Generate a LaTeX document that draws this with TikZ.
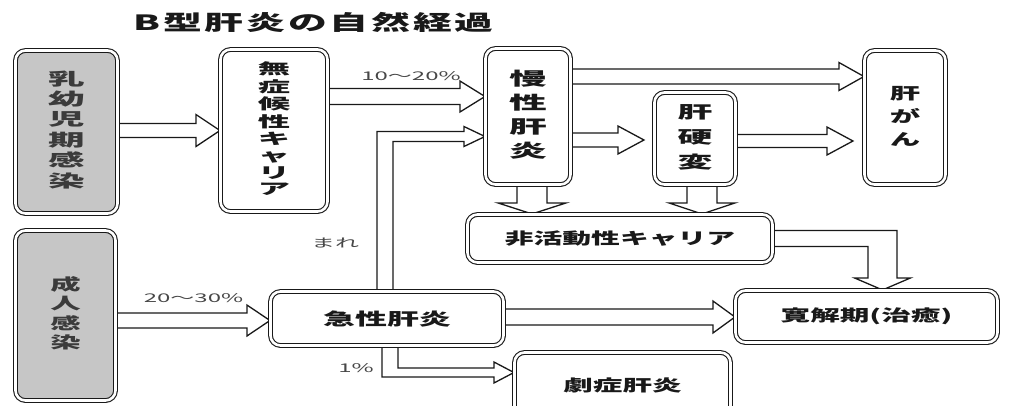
\documentclass[tikz,border=0pt]{standalone}
\usepackage{fontspec}
\usepackage{graphicx}
\setmainfont{Noto Sans CJK JP}
\usetikzlibrary{calc}
\pgfdeclarelayer{bg}
\pgfsetlayers{bg,main}
\definecolor{boxgray}{RGB}{198,198,198}
\definecolor{ink}{RGB}{25,25,25}
\tikzset{
  bx/.style={draw=ink, line width=1.1pt, double=white, double distance=2.6pt,
             rounded corners=10pt, inner sep=0pt, fill=white, text=ink, font=\bfseries},
  gbx/.style={bx, fill=boxgray, text=ink!85},
  blk/.style={draw=ink, line width=1.3pt, fill=white, line join=miter},
  lbl/.style={inner sep=0pt, text=ink!80},
}
\newcommand\vtext[4]{\scalebox{#3}[1]{\fontsize{#1}{#2}\selectfont\begin{tabular}{@{}c@{}}#4\end{tabular}}}
\newcommand\htext[3]{\scalebox{#2}[1]{\fontsize{#1}{#1}\selectfont #3}}
\newcommand\tsp{\hspace{1.5pt}}
% horizontal block arrow: start, tip, shaft half width, head half width, head length
\newcommand\harr[5]{\draw[blk] let \p1=#1, \p2=#2 in
  (\x1-6pt,\y2+#3) -- (\x2-#5,\y2+#3) -- (\x2-#5,\y2+#4) -- (\x2,\y2)
  -- (\x2-#5,\y2-#4) -- (\x2-#5,\y2-#3) -- (\x1-6pt,\y2-#3) -- cycle;}
% downward block arrow
\newcommand\varr[5]{\draw[blk] let \p1=#1, \p2=#2 in
  (\x2-#3,\y1+6pt) -- (\x2-#3,\y2+#5) -- (\x2-#4,\y2+#5) -- (\x2,\y2)
  -- (\x2+#4,\y2+#5) -- (\x2+#3,\y2+#5) -- (\x2+#3,\y1+6pt) -- cycle;}
\begin{document}
\begin{tikzpicture}[x=1pt,y=-1pt]
\useasboundingbox (0,0) rectangle (1016,405);
\clip (0,0) rectangle (1016,405);

% title
\node[lbl, text=ink] (title) at (313.5,22.5) {\scalebox{1.85}[1]{\fontsize{21}{21}\selectfont\bfseries B\tsp 型\tsp 肝\tsp 炎\tsp の\tsp 自\tsp 然\tsp 経\tsp 過}};

% boxes
\node[gbx, minimum width=102pt, minimum height=163pt] (A) at (66.5,132) {\vtext{17}{19.5}{2.15}{乳\\幼\\児\\期\\感\\染}};
\node[bx, minimum width=107pt, minimum height=162pt] (B) at (274,130.5) {\vtext{15}{16.5}{2.15}{無\\症\\候\\性\\キ\\ャ\\リ\\ア}};
\node[bx, minimum width=85pt, minimum height=136pt] (C) at (528,116.5) {\vtext{18}{24}{2.1}{慢\\性\\肝\\炎}};
\node[bx, minimum width=81pt, minimum height=92pt] (D) at (695,138.5) {\vtext{17}{25}{2.05}{肝\\硬\\変}};
\node[bx, minimum width=81pt, minimum height=134pt] (E) at (905,117.5) {\vtext{16}{23}{1.9}{肝\\が\\ん}};
\node[bx, minimum width=305pt, minimum height=48pt] (F) at (620,238.5) {\htext{16}{1.8}{非活動性キャリア}};
\node[bx, minimum width=233pt, minimum height=54pt] (G) at (387,318.5) {\htext{17}{1.88}{急性肝炎}};
\node[bx, minimum width=262pt, minimum height=52pt] (H) at (866.5,316.5) {\htext{16}{1.85}{寛解期(治癒)}};
\node[bx, minimum width=216pt, minimum height=67pt] (I) at (622.5,386) {\raisebox{3pt}{\htext{16}{1.85}{劇症肝炎}}};
\node[gbx, minimum width=100pt, minimum height=170pt] (J) at (65.5,315.5) {\vtext{16}{18.5}{1.9}{成\\人\\感\\染}};

% labels
\node[lbl] (l1) at (411,76) {\htext{12}{2.0}{10〜20\%}};
\node[lbl] (l2) at (193.5,298) {\htext{12}{2.0}{20〜30\%}};
\node[lbl] (l3) at (335,243) {\htext{12}{2.0}{まれ}};
\node[lbl] (l4) at (356,368) {\htext{12}{2.0}{1\%}};

% arrows
\begin{pgfonlayer}{bg}
\harr{(A.east)}{(B.west)}{7pt}{16pt}{24pt}
\harr{(B.east)}{([yshift=20pt]C.west)}{8pt}{15.5pt}{25pt}
\harr{(C.east)}{([yshift=41pt]E.west)}{7.5pt}{14pt}{25pt}
\harr{(C.east)}{([xshift=-10pt,yshift=-1.5pt]D.west)}{7pt}{14pt}{26pt}
\harr{(D.east)}{([xshift=-11pt,yshift=-23.5pt]E.west)}{6.5pt}{14pt}{26pt}
\varr{(C.south)}{([xshift=-88pt]F.north)}{15pt}{34pt}{11pt}
\varr{(D.south)}{([xshift=82pt]F.north)}{15pt}{33pt}{11pt}
\harr{(J.east)}{([yshift=-2pt]G.west)}{7.5pt}{15.5pt}{23pt}
\harr{(G.east)}{([yshift=-0.5pt]H.west)}{8pt}{16pt}{22pt}
% inactive carrier -> remission
\draw[blk] let \p1=(F.east), \p2=([xshift=16pt]H.north) in
  (\x1-6pt,\y1+8pt) -- (\x2+14.5pt,\y1+8pt) -- (\x2+14.5pt,\y2+12pt) -- (\x2+28pt,\y2+12pt)
  -- (\x2,\y2) -- (\x2-28pt,\y2+12pt) -- (\x2-14.5pt,\y2+12pt) -- (\x2-14.5pt,\y1-8pt)
  -- (\x1-6pt,\y1-8pt) -- cycle;
% acute -> chronic (rare)
\draw[blk] let \p1=([xshift=-2pt]G.north), \p2=([yshift=-20pt]C.west) in
  (\x1-8pt,\y1-6pt) -- (\x1-8pt,\y2+5pt) -- (\x2-21pt,\y2+5pt) -- (\x2-21pt,\y2+10pt)
  -- (\x2,\y2) -- (\x2-21pt,\y2-10pt) -- (\x2-21pt,\y2-5pt) -- (\x1+8pt,\y2-5pt)
  -- (\x1+8pt,\y1-6pt) -- cycle;
% acute -> fulminant
\draw[blk] let \p1=([xshift=3pt]G.south), \p2=([yshift=13.5pt]I.west) in
  (\x1-8pt,\y1+6pt) -- (\x1-8pt,\y2-4.5pt) -- (\x2-20pt,\y2-4.5pt) -- (\x2-20pt,\y2-10.5pt)
  -- (\x2,\y2) -- (\x2-20pt,\y2+10.5pt) -- (\x2-20pt,\y2+4.5pt) -- (\x1+8pt,\y2+4.5pt)
  -- (\x1+8pt,\y1+6pt) -- cycle;
\end{pgfonlayer}
\end{tikzpicture}
\end{document}
